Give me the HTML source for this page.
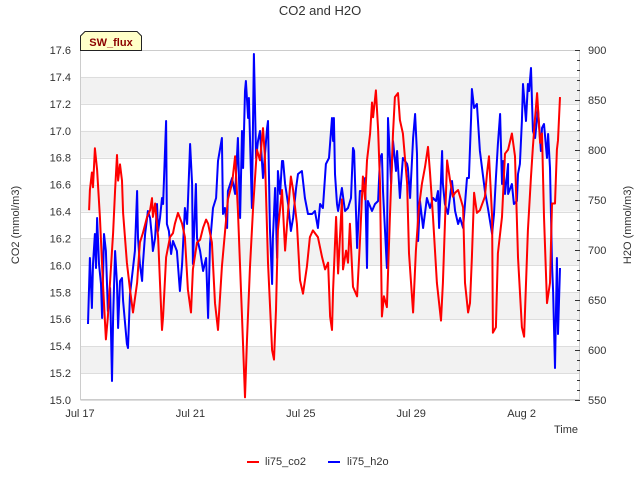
<!DOCTYPE html>
<html><head><meta charset="utf-8"><style>
body{margin:0;background:#fff;}
svg{display:block;font-family:"Liberation Sans",sans-serif;}
</style></head><body>
<svg id="chart" width="640" height="480" viewBox="0 0 640 480" xmlns="http://www.w3.org/2000/svg">
<text x="320" y="15" text-anchor="middle" font-size="13" fill="#333">CO2 and H2O</text>
<g id="bands"></g>
<g id="grid"></g>
<rect x="80.5" y="50.5" width="499" height="349" fill="none" stroke="#ccc"/>
<g id="lticks"></g><g id="rticks"></g><g id="xticks"></g>
<g id="series"></g>
<text transform="translate(19,225) rotate(-90)" text-anchor="middle" font-size="11" fill="#333">CO2 (mmol/m3)</text>
<text transform="translate(631,225) rotate(-90)" text-anchor="middle" font-size="11" fill="#333">H2O (mmol/m3)</text>
<text x="578" y="433" text-anchor="end" font-size="11" fill="#333">Time</text>
<g>
<path d="M80.5,50.5 L80.5,36 L85,31.5 L137,31.5 L141.5,36 L141.5,50.5 Z" fill="#ffffc8" stroke="#222"/>
<text x="111" y="46" text-anchor="middle" font-size="11" font-weight="bold" fill="#8b0000">SW_flux</text>
</g>
<g>
<line x1="247" y1="462" x2="259" y2="462" stroke="#f00" stroke-width="2"/>
<text x="265" y="465" font-size="11" fill="#333">li75_co2</text>
<line x1="328" y1="462" x2="340" y2="462" stroke="#00f" stroke-width="2"/>
<text x="347" y="465" font-size="11" fill="#333">li75_h2o</text>
</g>
</svg>
<script>
const xTickLabels=["Jul 17","Jul 21","Jul 25","Jul 29","Aug 2"];
const xTickDays=[0,4,8,12,16];
const co2Ticks=[15.0,15.2,15.4,15.6,15.8,16.0,16.2,16.4,16.6,16.8,17.0,17.2,17.4,17.6];
const h2oTicks=[550,600,650,700,750,800,850,900];
const co2Days=[0.33,0.36,0.43,0.47,0.54,0.62,0.65,0.72,0.83,0.94,1.01,1.16,1.20,1.27,1.34,1.38,1.45,1.52,1.56,1.70,1.81,1.92,2.07,2.17,2.28,2.43,2.54,2.61,2.64,2.72,2.83,2.90,2.97,3.01,3.12,3.26,3.37,3.44,3.55,3.70,3.80,3.91,4.02,4.09,4.24,4.35,4.46,4.57,4.64,4.78,4.89,5.00,5.14,5.25,5.36,5.51,5.62,5.72,5.87,5.98,6.05,6.16,6.27,6.41,6.52,6.63,6.70,6.81,6.96,7.03,7.10,7.17,7.32,7.43,7.54,7.64,7.72,7.86,7.97,8.08,8.22,8.33,8.44,8.62,8.77,8.88,8.99,9.06,9.13,9.17,9.28,9.35,9.49,9.53,9.64,9.71,9.78,9.89,10.04,10.14,10.25,10.33,10.40,10.51,10.58,10.62,10.72,10.80,10.87,10.94,11.01,11.12,11.23,11.34,11.41,11.52,11.59,11.70,11.85,11.92,12.07,12.17,12.28,12.39,12.50,12.61,12.68,12.79,12.93,13.08,13.15,13.30,13.41,13.51,13.59,13.70,13.84,13.88,13.95,14.06,14.13,14.20,14.28,14.38,14.49,14.67,14.75,14.82,14.93,14.96,15.07,15.14,15.29,15.40,15.51,15.65,15.76,15.87,16.01,16.09,16.23,16.34,16.41,16.49,16.56,16.67,16.74,16.81,16.92,17.03,17.10,17.21,17.28,17.32,17.39];
const co2Values=[16.41,16.56,16.69,16.58,16.87,16.71,16.61,16.36,15.87,15.45,15.62,16.11,16.24,16.56,16.82,16.63,16.75,16.63,16.39,16.02,15.82,15.65,15.87,16.17,16.24,16.36,16.41,16.50,16.36,16.46,16.21,15.87,15.52,15.62,16.06,16.21,16.24,16.31,16.39,16.31,16.21,15.82,15.65,15.97,16.17,16.19,16.28,16.34,16.31,16.17,15.72,15.52,15.99,16.24,16.49,16.61,16.81,16.41,15.62,15.02,15.45,15.99,16.43,16.86,16.78,17.02,16.81,16.02,15.37,15.30,15.67,16.26,16.56,16.11,16.41,16.66,16.56,16.31,15.89,15.79,15.99,16.21,16.26,16.21,16.06,15.97,16.02,15.62,15.52,15.82,16.36,15.94,16.49,15.97,16.11,16.02,16.31,15.84,15.77,16.17,16.66,16.49,16.78,16.98,17.21,17.10,17.30,17.01,16.61,15.62,15.77,15.69,16.36,16.98,17.25,17.28,17.08,16.98,16.61,16.09,15.65,16.11,16.43,16.61,16.73,16.88,16.69,16.36,15.87,15.59,15.87,16.78,16.63,16.51,16.54,16.56,16.46,16.43,15.87,15.65,15.72,16.06,16.54,16.39,16.41,16.51,16.69,16.81,16.36,15.50,15.54,16.09,16.36,16.83,16.86,16.98,16.81,16.06,15.54,15.47,16.26,16.66,16.88,17.10,17.28,16.91,16.98,16.36,15.72,15.87,16.46,16.46,16.86,16.93,17.25];
const h2oDays=[0.29,0.36,0.43,0.47,0.54,0.58,0.62,0.69,0.76,0.80,0.87,0.94,1.01,1.09,1.16,1.20,1.27,1.34,1.38,1.45,1.52,1.56,1.70,1.74,1.81,1.92,1.99,2.07,2.10,2.17,2.25,2.28,2.36,2.43,2.46,2.54,2.61,2.64,2.72,2.79,2.83,2.90,2.97,3.01,3.12,3.15,3.22,3.30,3.37,3.51,3.62,3.70,3.80,3.88,3.99,4.06,4.09,4.20,4.24,4.35,4.46,4.57,4.64,4.71,4.82,4.93,5.00,5.14,5.18,5.25,5.33,5.36,5.51,5.62,5.72,5.80,5.87,5.91,5.98,6.01,6.09,6.12,6.23,6.30,6.38,6.45,6.52,6.63,6.78,6.81,6.88,6.96,6.99,7.07,7.14,7.17,7.25,7.32,7.36,7.43,7.54,7.64,7.72,7.83,7.90,8.04,8.15,8.26,8.41,8.51,8.62,8.70,8.80,8.91,9.02,9.13,9.17,9.20,9.24,9.31,9.35,9.49,9.60,9.71,9.82,9.89,9.93,10.04,10.07,10.14,10.25,10.33,10.40,10.43,10.58,10.69,10.80,10.87,10.94,10.98,11.12,11.16,11.27,11.34,11.45,11.49,11.59,11.70,11.85,11.88,11.96,12.07,12.14,12.21,12.25,12.32,12.43,12.57,12.68,12.79,12.90,12.97,13.01,13.12,13.15,13.22,13.33,13.48,13.59,13.70,13.77,13.88,14.02,14.09,14.17,14.20,14.28,14.38,14.49,14.67,14.78,14.93,15.00,15.07,15.14,15.22,15.29,15.33,15.40,15.51,15.51,15.65,15.72,15.83,15.87,15.94,16.01,16.05,16.16,16.23,16.27,16.34,16.41,16.49,16.56,16.59,16.70,16.74,16.81,16.92,16.96,17.03,17.10,17.14,17.21,17.28,17.32,17.39];
const h2oValues=[626,692,642,686,716,682,732,686,666,632,716,699,639,662,569,632,699,666,622,669,672,649,606,602,656,682,699,759,712,686,669,686,716,732,739,732,712,699,712,746,719,732,752,746,829,726,719,696,709,699,659,686,742,726,806,766,686,766,712,699,679,692,632,706,742,752,789,812,736,742,722,759,772,756,812,732,819,782,859,869,832,852,742,896,792,809,819,772,822,829,722,666,712,762,692,779,756,789,789,766,746,719,732,762,776,779,752,736,736,739,722,746,742,786,792,832,809,832,776,746,739,762,739,742,752,802,799,702,719,759,759,772,682,749,739,746,749,792,796,759,682,832,766,809,779,799,752,792,786,782,752,812,836,796,709,749,722,752,742,752,749,759,722,799,766,746,736,769,739,726,732,722,772,772,832,861,842,846,799,759,742,716,736,772,806,836,766,789,756,786,756,766,746,749,776,786,829,866,829,866,859,882,819,812,832,842,799,822,826,792,816,782,686,659,582,692,616,682,699,746];

const NS="http://www.w3.org/2000/svg";
const L=80.5,R=579.5,T=50,B=400;
const xScale=d=>80+d*27.6;
const yCo2=v=>B-(v-15.0)/(17.6-15.0)*(B-T);
const yH2o=v=>B-(v-550)/(900-550)*(B-T);
function mk(tag,attrs,parent){const e=document.createElementNS(NS,tag);for(const k in attrs)e.setAttribute(k,attrs[k]);parent.appendChild(e);return e;}
const bands=document.getElementById('bands'),grid=document.getElementById('grid');
for(let i=0;i<co2Ticks.length-1;i++){
  if(i%2===1){const r=mk('rect',{x:L,y:yCo2(co2Ticks[i+1]),width:R-L,height:yCo2(co2Ticks[i])-yCo2(co2Ticks[i+1]),fill:'#f2f2f2'},bands);
  
  }
}
const lt=document.getElementById('lticks');
co2Ticks.forEach(v=>{
  const y=Math.round(yCo2(v))+0.5;
  const g=mk('line',{x1:L,x2:R,y1:y,y2:y,stroke:'#ddd'},grid);
  
  
  const t=mk('text',{x:71,y:yCo2(v)+4,'text-anchor':'end','font-size':11,fill:'#333'},lt);
  
  
  t.textContent=v.toFixed(1);
});
const rt=document.getElementById('rticks');
for(let v=550;v<=900;v+=10){
  const y=Math.round(yH2o(v))+0.5;const major=v%50===0;
  const m=mk('line',{x1:major?575:577,x2:580,y1:y,y2:y,stroke:'#333'},rt);
  
  
}
h2oTicks.forEach(v=>{
  const t=mk('text',{x:588,y:yH2o(v)+4,'font-size':11,fill:'#333'},rt);
  
  
  t.textContent=v;
});
const xt=document.getElementById('xticks');
xTickLabels.forEach((s,i)=>{
  const t=mk('text',{x:xScale(xTickDays[i]),y:417,'text-anchor':'middle','font-size':11,fill:'#333'},xt);
  
  
  t.textContent=s;
});
const ser=document.getElementById('series');
const pCo2=co2Days.map((d,i)=>xScale(d).toFixed(1)+','+yCo2(co2Values[i]).toFixed(1)).join(' ');
const lc=mk('polyline',{points:pCo2,fill:'none',stroke:'#ff0000','stroke-width':2,'stroke-linejoin':'round'},ser);


const pH=h2oDays.map((d,i)=>xScale(d).toFixed(1)+','+yH2o(h2oValues[i]).toFixed(1)).join(' ');
const lh=mk('polyline',{points:pH,fill:'none',stroke:'#0000ff','stroke-width':2,'stroke-linejoin':'round'},ser);


ser.appendChild(lc);
</script>
</body></html>
